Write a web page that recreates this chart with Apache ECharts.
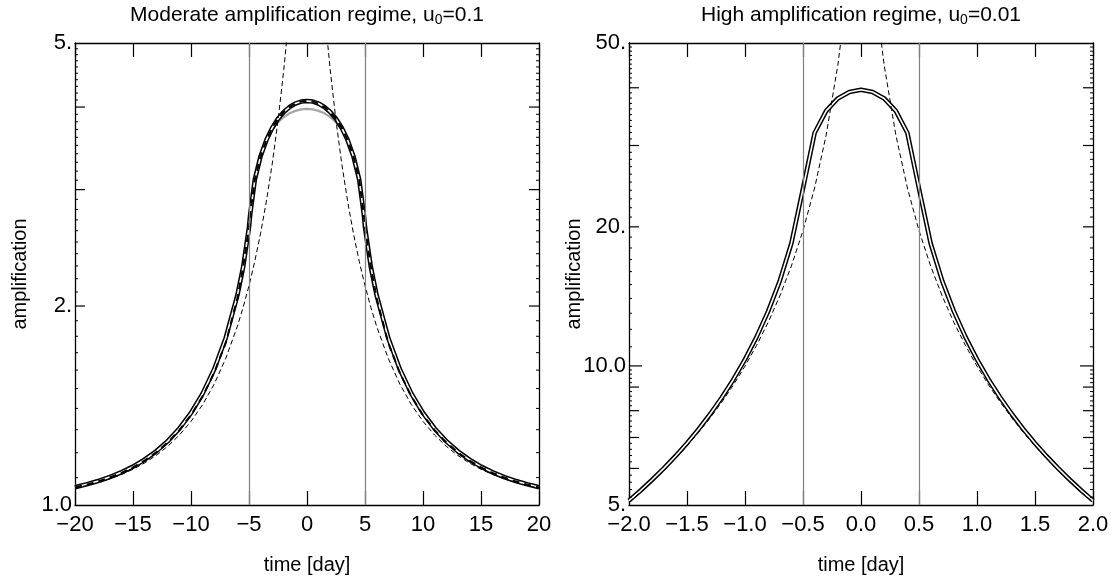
<!DOCTYPE html>
<html><head><meta charset="utf-8">
<script src="https://cdn.jsdelivr.net/npm/echarts@6/dist/echarts.min.js"></script>
<style>html,body{margin:0;padding:0;background:#fff}#c{width:1117px;height:583px}</style>
</head><body><div id="c"></div>
<script>
// ---------- data ----------
const LEFT_TIME = [-20,-19,-18,-17,-16,-15,-14,-13,-12,-11,-10,-9,-8,-7,-6,-5.5,-5,-4.9,-4.5,-4,-3.5,-3,-2.5,-2,-1.5,-1,-0.5,0,0.5,1,1.5,2,2.5,3,3.5,4,4.5,4.9,5,5.5,6,7,8,9,10,11,12,13,14,15,16,17,18,19,20];
const LEFT_POINT_SOURCE = [1.0604,1.0701,1.0815,1.0954,1.1122,1.1326,1.1576,1.1886,1.2272,1.276,1.338,1.4185,1.524,1.667,1.864,1.992,2.147,2.183,2.338,2.577,2.882,3.280,3.814,4.556,5.614,7.124,8.986,10.038,8.986,7.124,5.614,4.556,3.814,3.280,2.882,2.577,2.338,2.183,2.147,1.992,1.864,1.667,1.524,1.4185,1.338,1.276,1.2272,1.1886,1.1576,1.1326,1.1122,1.0954,1.0815,1.0701,1.0604];
const LEFT_FINITE = [1.0641,1.0745,1.0869,1.1021,1.1205,1.1430,1.1709,1.2058,1.2493,1.3055,1.378,1.474,1.605,1.791,2.077,2.293,2.632,2.749,3.106,3.371,3.565,3.720,3.839,3.933,4.000,4.049,4.077,4.086,4.077,4.049,4.000,3.933,3.839,3.720,3.565,3.371,3.106,2.749,2.632,2.293,2.077,1.791,1.605,1.474,1.378,1.3055,1.2493,1.2058,1.1709,1.1430,1.1205,1.1021,1.0869,1.0745,1.0641];
const LEFT_APPROX = [1.0689,1.0796,1.0922,1.1076,1.1262,1.1489,1.1769,1.2118,1.2555,1.3115,1.384,1.480,1.611,1.798,2.086,2.305,2.646,2.779,3.139,3.390,3.567,3.697,3.792,3.863,3.914,3.947,3.968,3.975,3.968,3.947,3.914,3.863,3.792,3.697,3.567,3.390,3.139,2.779,2.646,2.305,2.086,1.798,1.611,1.480,1.384,1.3115,1.2555,1.2118,1.1769,1.1489,1.1262,1.1076,1.0922,1.0796,1.0689];
const LEFT_ALT = [1.0632,1.0734,1.0856,1.1004,1.1184,1.1404,1.1676,1.2015,1.2438,1.298,1.368,1.460,1.585,1.760,2.056,2.293,2.632,2.749,3.106,3.371,3.565,3.720,3.839,3.933,4.000,4.049,4.077,4.086,4.077,4.049,4.000,3.933,3.839,3.720,3.565,3.371,3.106,2.749,2.632,2.293,2.056,1.760,1.585,1.460,1.368,1.298,1.2438,1.2015,1.1676,1.1404,1.1184,1.1004,1.0856,1.0734,1.0632];

const RIGHT_TIME = [-2.0,-1.9,-1.8,-1.7,-1.6,-1.5,-1.4,-1.3,-1.2,-1.1,-1.0,-0.9,-0.8,-0.7,-0.6,-0.5,-0.4,-0.3,-0.2,-0.1,0.0,0.1,0.2,0.3,0.4,0.5,0.6,0.7,0.8,0.9,1.0,1.1,1.2,1.3,1.4,1.5,1.6,1.7,1.8,1.9,2.0];
const RIGHT_POINT_SOURCE = [5.069,5.327,5.615,5.936,6.298,6.708,7.177,7.719,8.350,9.095,9.988,11.08,12.43,14.17,16.46,19.63,24.27,31.64,44.73,70.72,100.0,70.72,44.73,31.64,24.27,19.63,16.46,14.17,12.43,11.08,9.988,9.095,8.350,7.719,7.177,6.708,6.298,5.936,5.615,5.327,5.069];
const RIGHT_FINITE = [5.110,5.374,5.671,6.002,6.377,6.805,7.297,7.870,8.543,9.348,10.33,11.56,13.14,15.28,18.43,24.20,31.93,35.65,37.93,39.18,39.60,39.18,37.93,35.65,31.93,24.20,18.43,15.28,13.14,11.56,10.33,9.348,8.543,7.870,7.297,6.805,6.377,6.002,5.671,5.374,5.110];

const LEFT_X_RANGE = [-20, 20];
const RIGHT_X_RANGE = [-2, 2];
const LEFT_Y_RANGE = [1, 5];
const RIGHT_Y_RANGE = [5, 50];
const LEFT_VLINES = [-5, 5];
const RIGHT_VLINES = [-0.5, 0.5];

const LEFT_Y_MAJOR = [2, 3, 4];
const LEFT_Y_MINOR = [1.1,1.2,1.3,1.4,1.5,1.6,1.7,1.8,1.9,2.1,2.2,2.3,2.4,2.5,2.6,2.7,2.8,2.9,3.1,3.2,3.3,3.4,3.5,3.6,3.7,3.8,3.9,4.1,4.2,4.3,4.4,4.5,4.6,4.7,4.8,4.9];
const LEFT_Y_LABEL_VALUES = [1, 2, 5];
const LEFT_Y_LABEL_TEXT = ['1.0', '2.', '5.'];

const RIGHT_Y_MAJOR = [6, 7, 8, 9, 20, 30, 40];
const RIGHT_Y_DECADE = [10];
const RIGHT_Y_MINOR = [5.2,5.4,5.6,5.8,6.2,6.4,6.6,6.8,7.2,7.4,7.6,7.8,8.2,8.4,8.6,8.8,9.2,9.4,9.6,9.8,11,12,13,14,15,16,17,18,19,21,22,23,24,25,26,27,28,29,31,32,33,34,35,36,37,38,39,41,42,43,44,45,46,47,48,49];
const RIGHT_Y_LABEL_VALUES = [5, 10, 20, 50];
const RIGHT_Y_LABEL_TEXT = ['5.', '10.0', '20.', '50.'];

const TITLES = ['Moderate amplification regime, u', 'High amplification regime, u'];
const TITLE_TAILS = ['=0.1', '=0.01'];

// ---------- chart ----------
const FONT = "'Liberation Sans', Arial, Helvetica, sans-serif";
const GRID_LEFT = [75, 629];
const GRID_TOP = 43, GRID_W = 464, GRID_H = 462;

function pairs(xs, ys) { return xs.map((x, i) => [x, ys[i]]); }

function line(gi, xs, ys, color, width, type, z) {
  return {
    type: 'line', xAxisIndex: gi * 2, yAxisIndex: gi * 2, data: pairs(xs, ys),
    showSymbol: false, symbol: 'none', silent: true, z: z,
    lineStyle: { color: color, width: width, type: type, cap: 'butt', join: 'round' }
  };
}

function vlines(gi, xs) {
  return {
    type: 'line', xAxisIndex: gi * 2, yAxisIndex: gi * 2, data: [], silent: true, z: 1,
    markLine: {
      silent: true, symbol: ['none', 'none'], label: { show: false }, animation: false,
      lineStyle: { color: '#808080', width: 1.2, type: 'solid' },
      data: xs.map(v => ({ xAxis: v }))
    }
  };
}

function ticks(gi, values, len, xr, width) {
  return {
    type: 'custom', xAxisIndex: gi * 2, yAxisIndex: gi * 2, silent: true, clip: false, z: 6,
    data: values.map(v => [xr[0], v]),
    renderItem: function (params, api) {
      const v = api.value(1);
      const a = api.coord([xr[0], v]);
      const b = api.coord([xr[1], v]);
      return { type: 'group', children: [
        { type: 'line', shape: { x1: a[0], y1: a[1], x2: a[0] + len, y2: a[1] }, style: { stroke: '#000', lineWidth: width } },
        { type: 'line', shape: { x1: b[0] - len, y1: b[1], x2: b[0], y2: b[1] }, style: { stroke: '#000', lineWidth: width } }
      ] };
    }
  };
}

function ylabels(gi, values, texts, xr) {
  return {
    type: 'custom', xAxisIndex: gi * 2, yAxisIndex: gi * 2, silent: true, clip: false, z: 7,
    data: values.map(v => [xr[0], v]),
    renderItem: function (params, api) {
      const a = api.coord([xr[0], api.value(1)]);
      return { type: 'text', x: a[0] - 3, y: a[1], style: {
        text: texts[params.dataIndex], fill: '#000', fontSize: 22, fontFamily: FONT,
        align: 'right', verticalAlign: 'middle' } };
    }
  };
}

function minus(s) { return s.replace('-', '\u2212'); }

const xAxes = [], yAxes = [];
[[LEFT_X_RANGE, 5, v => minus(String(v))], [RIGHT_X_RANGE, 0.5, v => minus(v.toFixed(1))]].forEach((cfg, gi) => {
  const base = {
    type: 'value', gridIndex: gi, min: cfg[0][0], max: cfg[0][1], interval: cfg[1],
    axisLine: { show: true, onZero: false, lineStyle: { color: '#000', width: 1.3 } },
    axisTick: { show: true, inside: true, length: 14, lineStyle: { color: '#000', width: 1.2 } },
    splitLine: { show: false }
  };
  xAxes.push(Object.assign({}, base, {
    position: 'bottom',
    axisLabel: { show: true, interval: 0, margin: 9, fontSize: 22, fontFamily: FONT, color: '#000', formatter: cfg[2] },
    name: 'time [day]', nameLocation: 'middle', nameGap: 50,
    nameTextStyle: { fontSize: 20, fontFamily: FONT, color: '#000' }
  }));
  xAxes.push(Object.assign({}, base, { position: 'top', axisLabel: { show: false } }));
});
[LEFT_Y_RANGE, RIGHT_Y_RANGE].forEach((yr, gi) => {
  const base = {
    type: 'log', logBase: 10, gridIndex: gi, min: yr[0], max: yr[1],
    axisLine: { show: true, onZero: false, lineStyle: { color: '#000', width: 1.3 } },
    axisTick: { show: false }, axisLabel: { show: false }, splitLine: { show: false }, minorTick: { show: false }
  };
  yAxes.push(Object.assign({}, base, {
    position: 'left', name: 'amplification', nameLocation: 'middle', nameGap: 45,
    nameTextStyle: { fontSize: 20, fontFamily: FONT, color: '#000' }
  }));
  yAxes.push(Object.assign({}, base, { position: 'right' }));
});

const series = [
  vlines(0, LEFT_VLINES),
  line(0, LEFT_TIME, LEFT_APPROX, '#a6a6a6', 2.2, 'solid', 2),
  line(0, LEFT_TIME, LEFT_FINITE, '#000', 4.6, 'solid', 3),
  line(0, LEFT_TIME, LEFT_FINITE, '#fff', 1.6, 'solid', 3),
  line(0, LEFT_TIME, LEFT_ALT, '#000', 2.0, [7, 5], 4),
  line(0, LEFT_TIME, LEFT_POINT_SOURCE, '#000', 1.0, [5, 3], 4),
  ticks(0, LEFT_Y_MAJOR, 10, LEFT_X_RANGE, 1.2),
  ticks(0, LEFT_Y_MINOR, 3, LEFT_X_RANGE, 1.0),
  ylabels(0, LEFT_Y_LABEL_VALUES, LEFT_Y_LABEL_TEXT, LEFT_X_RANGE),

  vlines(1, RIGHT_VLINES),
  line(1, RIGHT_TIME, RIGHT_FINITE, '#000', 4.6, 'solid', 3),
  line(1, RIGHT_TIME, RIGHT_FINITE, '#fff', 1.6, 'solid', 3),
  line(1, RIGHT_TIME, RIGHT_POINT_SOURCE, '#000', 1.0, [5, 3], 4),
  ticks(1, RIGHT_Y_MAJOR, 10, RIGHT_X_RANGE, 1.2),
  ticks(1, RIGHT_Y_DECADE, 13, RIGHT_X_RANGE, 1.2),
  ticks(1, RIGHT_Y_MINOR, 3, RIGHT_X_RANGE, 1.0),
  ylabels(1, RIGHT_Y_LABEL_VALUES, RIGHT_Y_LABEL_TEXT, RIGHT_X_RANGE)
];

const rich = {
  a: { fontSize: 21, fontWeight: 'normal', fontFamily: FONT, color: '#000', lineHeight: 26 },
  b: { fontSize: 14, fontWeight: 'normal', fontFamily: FONT, color: '#000', lineHeight: 26, padding: [10, 0, 0, 0] }
};

const option = {
  animation: false,
  backgroundColor: '#fff',
  title: TITLES.map((t, i) => ({
    text: '{a|' + t + '}{b|0}{a|' + TITLE_TAILS[i] + '}',
    left: GRID_LEFT[i] + GRID_W / 2 - 5, top: -3, textAlign: 'center',
    textStyle: { fontWeight: 'normal', rich: rich }
  })),
  grid: GRID_LEFT.map(l => ({ left: l, top: GRID_TOP, width: GRID_W, height: GRID_H, containLabel: false })),
  xAxis: xAxes,
  yAxis: yAxes,
  series: series
};

const chart = echarts.init(document.getElementById('c'), null, { renderer: 'canvas' });
chart.setOption(option);
</script></body></html>
